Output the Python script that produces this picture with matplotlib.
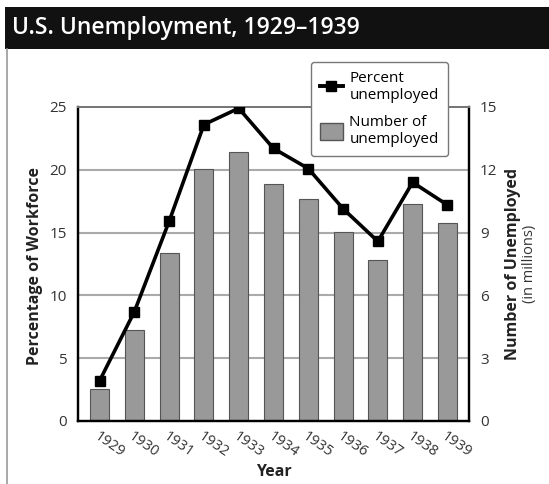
import matplotlib
matplotlib.use("Agg")
import matplotlib.pyplot as plt
from matplotlib.lines import Line2D
from matplotlib.patches import Patch, Rectangle

plt.rcParams['font.family'] = ['Open Sans', 'DejaVu Sans']

years = ['1929', '1930', '1931', '1932', '1933', '1934', '1935', '1936', '1937', '1938', '1939']
percent_unemployed = [3.2, 8.7, 15.9, 23.6, 24.9, 21.7, 20.1, 16.9, 14.3, 19.0, 17.2]
number_unemployed = [1.55, 4.34, 8.02, 12.06, 12.83, 11.34, 10.61, 9.03, 7.70, 10.39, 9.48]
left_ticks = [0, 5, 10, 15, 20, 25]
right_ticks = [0, 3, 6, 9, 12, 15]

W, H = 549, 484
fig = plt.figure(figsize=(W / 100, H / 100), dpi=100)

# title bar and left border
fig.patches.append(Rectangle((5 / W, 1 - 49 / H), 1, 42 / H, transform=fig.transFigure,
                             facecolor='#111111', edgecolor='none'))
fig.lines.append(Line2D([6.5 / W, 6.5 / W], [0, 1 - 49 / H], transform=fig.transFigure,
                        color='#999999', lw=1.2))
fig.text(12 / W, 1 - 28 / H, 'U.S. Unemployment, 1929\u20131939', color='white',
         fontsize=16.5, fontweight='semibold', va='center', ha='left')

# bars on the primary axes (right scale), line on the twin (left scale)
ax = fig.add_axes([78 / W, 63 / H, 391 / W, 314 / H])
x = list(range(len(years)))
ax.bar(x, number_unemployed, width=0.55, color='#999999', edgecolor='#555555',
       linewidth=0.8, zorder=2)
ax.set_ylim(0, 15)
ax.set_xlim(-0.62, 10.62)
for t in right_ticks[1:-1]:
    ax.axhline(t, color='#aaaaaa', lw=1.5, zorder=1)

ax2 = ax.twinx()
ax2.plot(x, percent_unemployed, color='black', lw=2.6, marker='s', markersize=6.5,
         zorder=3)
ax2.set_ylim(0, 25)
ax2.set_yticks(left_ticks)
ax2.yaxis.tick_left()
ax2.tick_params(axis='y', length=0, pad=8, labelsize=11, labelcolor='#333333')

ax.set_yticks(right_ticks)
ax.yaxis.tick_right()
ax.tick_params(axis='y', length=0, pad=8, labelsize=11, labelcolor='#333333')

for a in (ax, ax2):
    for s in ('left', 'right', 'bottom'):
        a.spines[s].set_color('black')
        a.spines[s].set_linewidth(1.6)
    a.spines['top'].set_color('#777777')
    a.spines['top'].set_linewidth(1.4)

ax.set_xticks(x)
ax.set_xticklabels(years, rotation=-35, ha='left', rotation_mode='anchor',
                   fontsize=10.5, color='#333333')
ax.tick_params(axis='x', length=0, pad=6)
ax.set_xlabel('Year', fontsize=11.5, fontweight='bold', color='#222222', labelpad=2)

fig.text(35 / W, 1 - 266 / H, 'Percentage of Workforce', rotation=90, ha='center',
         va='center', fontsize=11.5, fontweight='bold', color='#222222')
fig.text(513 / W, 1 - 264 / H, 'Number of Unemployed', rotation=90, ha='center',
         va='center', fontsize=11.5, fontweight='bold', color='#222222')
fig.text(530 / W, 1 - 264 / H, '(in millions)', rotation=90, ha='center',
         va='center', fontsize=10.5, color='#333333')

handles = [Line2D([], [], color='black', lw=2.8, marker='s', markersize=7),
           Patch(facecolor='#999999', edgecolor='#555555')]
leg = ax2.legend(handles, ['Percent\nunemployed', 'Number of\nunemployed'],
                 loc='upper right', bbox_to_anchor=(448 / W, 1 - 62 / H),
                 bbox_transform=fig.transFigure, fontsize=11, frameon=True,
                 fancybox=True, edgecolor='#777777', framealpha=1,
                 handlelength=1.5, handleheight=1.4, handletextpad=0.45,
                 labelspacing=0.75, borderpad=0.6, borderaxespad=0)
leg.get_frame().set_linewidth(1.0)
leg.set_zorder(10)

fig.savefig('out.png', dpi=100)
